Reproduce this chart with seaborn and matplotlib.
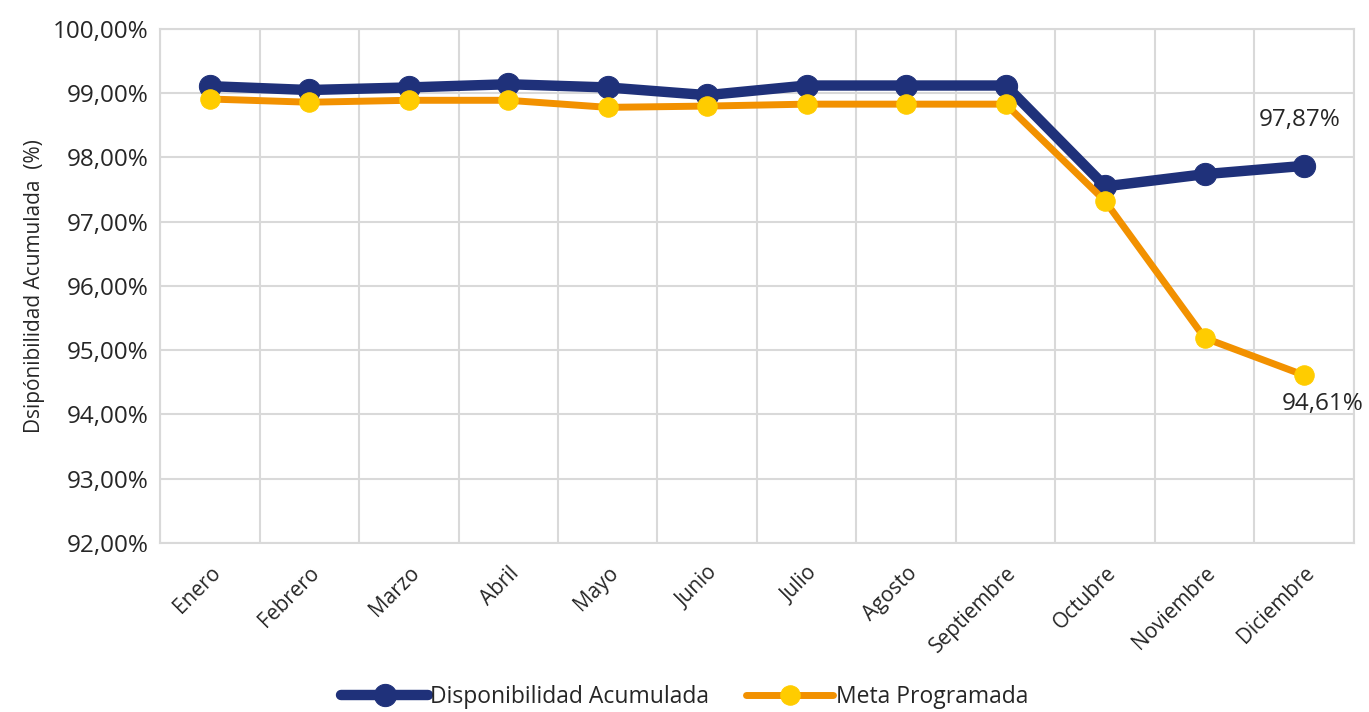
import matplotlib
matplotlib.use("Agg")
import matplotlib.pyplot as plt
import matplotlib.ticker as mticker
import pandas as pd
import seaborn as sns

MONTHS = ["Enero", "Febrero", "Marzo", "Abril", "Mayo", "Junio", "Julio",
          "Agosto", "Septiembre", "Octubre", "Noviembre", "Diciembre"]
DISPONIBILIDAD = [99.11, 99.05, 99.09, 99.14, 99.09, 98.97, 99.12,
                  99.12, 99.12, 97.55, 97.74, 97.87]
META = [98.91, 98.86, 98.89, 98.89, 98.78, 98.80, 98.83,
        98.83, 98.83, 97.32, 95.19, 94.61]
Y_TICKS = [92, 93, 94, 95, 96, 97, 98, 99, 100]

NAVY = "#1F317A"
ORANGE = "#F29100"
YELLOW = "#FFCC00"
GRID = "#D9D9D9"


def pct_label(value):
    return f"{value:.2f}".replace(".", ",") + "%"


def main():
    sns.set_style("white")
    plt.rcParams["font.family"] = ["Open Sans", "DejaVu Sans"]

    df = pd.DataFrame({"Mes": MONTHS, "Disp": DISPONIBILIDAD, "Meta": META})
    df["x"] = range(len(MONTHS))

    fig = plt.figure(figsize=(13.69, 7.12), dpi=100)
    ax = fig.add_axes([0.1169, 0.2374, 0.989 - 0.1169, 0.9593 - 0.2374])

    sns.lineplot(data=df, x="x", y="Disp", ax=ax, color=NAVY, lw=7.5,
                 marker="o", markersize=16, markerfacecolor=NAVY,
                 markeredgecolor=NAVY, label="Disponibilidad Acumulada",
                 sort=False, zorder=3)
    sns.lineplot(data=df, x="x", y="Meta", ax=ax, color=ORANGE, lw=5,
                 marker="o", markersize=14, markerfacecolor=YELLOW,
                 markeredgecolor=YELLOW, label="Meta Programada",
                 sort=False, zorder=4)

    ax.set_xlim(-0.5, len(MONTHS) - 0.5)
    ax.set_ylim(92, 100)
    ax.set_yticks(Y_TICKS)
    ax.yaxis.set_major_formatter(
        mticker.FuncFormatter(lambda v, p: pct_label(v)))
    ax.set_xticks(df["x"])
    ax.set_xticklabels(MONTHS, rotation=45, ha="right",
                       rotation_mode="anchor", fontsize=15)
    ax.set_xticks([i + 0.5 for i in range(-1, len(MONTHS))], minor=True)
    ax.tick_params(axis="both", which="both", length=0)
    ax.tick_params(axis="y", labelsize=17.5, pad=8)
    ax.tick_params(axis="x", pad=14)

    ax.grid(axis="y", which="major", color=GRID, lw=1.5)
    ax.grid(axis="x", which="minor", color=GRID, lw=1.5)
    ax.set_axisbelow(True)
    for spine in ax.spines.values():
        spine.set_color(GRID)
        spine.set_linewidth(1.5)

    ax.set_xlabel("")
    ax.set_ylabel("Dsipónibilidad Acumulada  (%)", fontsize=15, labelpad=6)

    last = len(MONTHS) - 1
    ax.annotate(pct_label(DISPONIBILIDAD[-1]), (last, DISPONIBILIDAD[-1]),
                xytext=(-3, 24), textcoords="offset points", ha="center",
                va="bottom", fontsize=17.5)
    ax.annotate(pct_label(META[-1]), (last, META[-1]),
                xytext=(13, -12), textcoords="offset points", ha="center",
                va="top", fontsize=17.5)

    ax.legend(loc="lower center", bbox_to_anchor=(0.5, -0.025),
              bbox_transform=fig.transFigure, ncol=2, frameon=False,
              fontsize=16.5, handlelength=3.8, handletextpad=0.1,
              columnspacing=1.6)

    fig.savefig("out.png", dpi=100)
    plt.close(fig)


if __name__ == "__main__":
    main()
